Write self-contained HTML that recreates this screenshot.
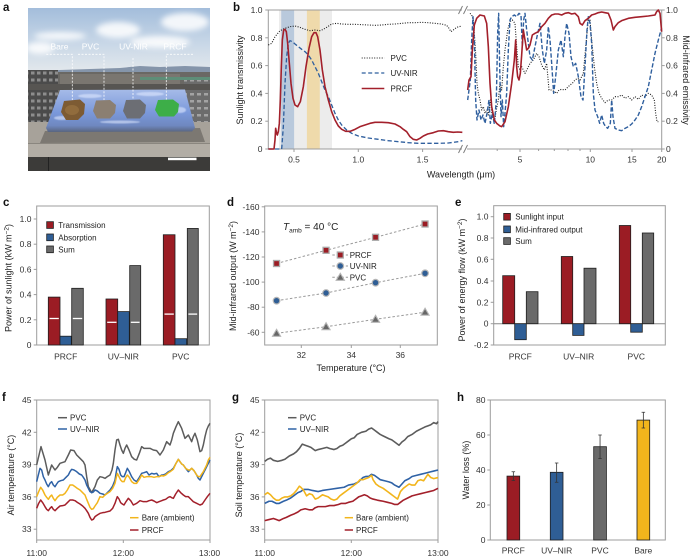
<!DOCTYPE html>
<html><head><meta charset="utf-8"><style>
html,body{margin:0;padding:0;background:#fff;}
svg{display:block;font-family:"Liberation Sans",Arial,sans-serif;}
.tk{font-size:8.5px;fill:#333;}
.al{font-size:9px;fill:#222;}
.lg{font-size:8px;fill:#222;}
.pl{font-size:11.5px;font-weight:bold;fill:#111;}
.fr{fill:none;stroke:#9c9c9c;stroke-width:1;}
.tm{stroke:#9c9c9c;stroke-width:1;}
.bar{stroke:#1e1e1e;stroke-width:0.8;}
</style></head><body>
<svg width="692" height="557" viewBox="0 0 692 557" xmlns="http://www.w3.org/2000/svg">
<defs>
<linearGradient id="sky" x1="0" y1="0" x2="0" y2="1">
<stop offset="0" stop-color="#a3bddb"/><stop offset="0.55" stop-color="#c8d7e7"/><stop offset="1" stop-color="#e3e8ec"/>
</linearGradient>
<linearGradient id="foil" x1="0" y1="0" x2="0" y2="1">
<stop offset="0" stop-color="#a6bbe8"/><stop offset="0.55" stop-color="#7a98da"/><stop offset="0.85" stop-color="#6f88c0"/><stop offset="1" stop-color="#59657f"/>
</linearGradient>
<filter id="bl" x="-50%" y="-50%" width="200%" height="200%"><feGaussianBlur stdDeviation="3"/></filter>
<filter id="bl1"><feGaussianBlur stdDeviation="0.6"/></filter>
<pattern id="win" width="6" height="7" patternUnits="userSpaceOnUse"><rect width="6" height="7" fill="#4b4b4b"/><rect x="1" y="1.5" width="3.5" height="3" fill="#8d8d8d"/></pattern>
<pattern id="win2" width="7" height="7" patternUnits="userSpaceOnUse"><rect width="7" height="7" fill="#6c6c6c"/><rect x="1" y="2" width="4" height="2.5" fill="#a3a3a3"/></pattern>
<clipPath id="ca"><rect x="28" y="8" width="182" height="163"/></clipPath>
</defs>
<rect width="692" height="557" fill="#fff"/>

<!-- ============ PANEL A ============ -->
<text class="pl" x="3" y="11">a</text>
<g clip-path="url(#ca)">
<rect x="28" y="8" width="182" height="64" fill="url(#sky)"/>
<g filter="url(#bl)" fill="#fff" opacity="0.85">
<ellipse cx="118" cy="30" rx="22" ry="8"/><ellipse cx="185" cy="22" rx="24" ry="9"/><ellipse cx="60" cy="36" rx="26" ry="4"/><ellipse cx="160" cy="42" rx="30" ry="6"/><ellipse cx="40" cy="48" rx="14" ry="6"/>
</g>
<path d="M28,72 L60,70 L90,69 L120,68 L140,66 L160,67 L185,66 L210,67 L210,80 L28,80 Z" fill="#8595aa"/>
<rect x="28" y="72" width="182" height="52" fill="#6a6864"/>
<rect x="60" y="74" width="120" height="14" fill="#7a7670"/>
<rect x="140" y="77" width="70" height="3" fill="#5e8e78"/>
<rect x="28" y="70" width="30" height="54" fill="url(#win)"/>
<rect x="184" y="80" width="26" height="44" fill="url(#win2)"/>
<rect x="28" y="84" width="182" height="6" fill="#575552"/>
<rect x="28" y="122" width="182" height="24" fill="#a7a29a"/>
<polygon points="45,131 200,128 205,142 40,143" fill="#6e6a64" opacity="0.75"/>
<rect x="28" y="144" width="182" height="13" fill="#b2ada5"/>
<rect x="28" y="143" width="182" height="1" fill="#8a867f"/>
<rect x="28" y="157" width="182" height="14" fill="#3c3b39"/>
<rect x="48" y="157" width="1" height="14" fill="#222"/>
<polygon points="60,90 185,89.5 195,128 192,131.5 48,132 46,128" fill="url(#foil)"/>
<g filter="url(#bl1)" fill="#dfe8ff" opacity="0.6">
<ellipse cx="90" cy="96" rx="12" ry="2"/><ellipse cx="150" cy="94" rx="14" ry="2"/><ellipse cx="120" cy="122" rx="20" ry="1.5"/><ellipse cx="62" cy="118" rx="8" ry="2"/><ellipse cx="180" cy="110" rx="6" ry="3"/>
</g>
<polygon points="64,101 80,99.5 85,104 84,114 78,120 66,120 61,112" fill="#7d5b33"/>
<ellipse cx="72" cy="110" rx="7" ry="5" fill="#9a7442" opacity="0.7"/>
<polygon points="96,100.5 110,100 116,105 115,113 110,118.5 97,118.5 93,111" fill="#8b7f72"/>
<polygon points="126,100 140,99.5 146,105 145,113 140,118.5 127,118.5 123,111" fill="#6c6e74"/>
<polygon points="158,100 173,99.5 179,104 178,112 174,116.5 159,116.5 155,110" fill="#3dae48"/>
<g font-size="8.5" fill="#fff" text-anchor="middle">
<text x="59.5" y="49.5">Bare</text><text x="90.5" y="49.5">PVC</text><text x="133.5" y="49.5">UV-NIR</text><text x="175" y="49.5">PRCF</text>
</g>
<g stroke="#fff" stroke-width="0.8" stroke-dasharray="2 1.5" fill="none" opacity="0.95">
<path d="M46.3,54.3 H72.3 V100"/><path d="M78,54.3 H104 V100"/><path d="M133,58 V100"/><path d="M193,54.3 H166.3 V100"/>
</g>
<rect x="168" y="157.7" width="28.5" height="2.5" fill="#fff"/>
</g>

<!-- ============ PANEL B ============ -->
<text class="pl" x="233" y="11">b</text>
<rect x="279" y="10" width="53" height="139" fill="#ececec"/>
<rect x="281.2" y="10" width="12.9" height="139" fill="#b9c9dc"/>
<rect x="306.9" y="10" width="12.9" height="139" fill="#efdaab"/>
<path class="fr" d="M462,10 H268.3 V149 H462 M467,10 H661.7 V149 H467"/>
<g stroke="#777" stroke-width="0.9">
<line x1="458.5" y1="14" x2="462.5" y2="6"/><line x1="463.5" y1="14" x2="467.5" y2="6"/>
<line x1="458.5" y1="153" x2="462.5" y2="145"/><line x1="463.5" y1="153" x2="467.5" y2="145"/>
</g>
<g class="tm">
<line x1="265.3" y1="10" x2="268.3" y2="10"/><line x1="265.3" y1="37.8" x2="268.3" y2="37.8"/><line x1="265.3" y1="65.6" x2="268.3" y2="65.6"/><line x1="265.3" y1="93.4" x2="268.3" y2="93.4"/><line x1="265.3" y1="121.2" x2="268.3" y2="121.2"/><line x1="265.3" y1="149" x2="268.3" y2="149"/>
<line x1="661.7" y1="10" x2="664.7" y2="10"/><line x1="661.7" y1="37.8" x2="664.7" y2="37.8"/><line x1="661.7" y1="65.6" x2="664.7" y2="65.6"/><line x1="661.7" y1="93.4" x2="664.7" y2="93.4"/><line x1="661.7" y1="121.2" x2="664.7" y2="121.2"/><line x1="661.7" y1="149" x2="664.7" y2="149"/>
<line x1="294" y1="149" x2="294" y2="152"/><line x1="358.3" y1="149" x2="358.3" y2="152"/><line x1="422.6" y1="149" x2="422.6" y2="152"/>
<line x1="520" y1="149" x2="520" y2="152"/><line x1="590.3" y1="149" x2="590.3" y2="152"/><line x1="632" y1="149" x2="632" y2="152"/><line x1="661.7" y1="149" x2="661.7" y2="152"/>
<line x1="497.2" y1="149" x2="497.2" y2="151"/><line x1="538.6" y1="149" x2="538.6" y2="151"/><line x1="554.3" y1="149" x2="554.3" y2="151"/><line x1="568" y1="149" x2="568" y2="151"/><line x1="580" y1="149" x2="580" y2="151"/>
</g>
<g class="tk" text-anchor="end">
<text x="262.5" y="13">1.0</text><text x="262.5" y="40.8">0.8</text><text x="262.5" y="68.6">0.6</text><text x="262.5" y="96.4">0.4</text><text x="262.5" y="124.2">0.2</text><text x="262.5" y="152">0</text>
</g>
<g class="tk">
<text x="666" y="13">1.0</text><text x="666" y="40.8">0.8</text><text x="666" y="68.6">0.6</text><text x="666" y="96.4">0.4</text><text x="666" y="124.2">0.2</text><text x="666" y="152">0</text>
</g>
<g class="tk" text-anchor="middle">
<text x="294" y="162.5">0.5</text><text x="358.3" y="162.5">1.0</text><text x="422.6" y="162.5">1.5</text>
<text x="520" y="162.5">5</text><text x="590.3" y="162.5">10</text><text x="632" y="162.5">15</text><text x="661.7" y="162.5">20</text>
</g>
<text class="al" x="461" y="177.5" text-anchor="middle">Wavelength (μm)</text>
<text class="al" transform="translate(243,80) rotate(-90)" text-anchor="middle">Sunlight transmissivity</text>
<text class="al" transform="translate(683,80) rotate(90)" text-anchor="middle">Mid-infrared emissivity</text>
<g transform="translate(235,0) scale(0.33333)" fill="none">
<polyline stroke="#1a1a1a" stroke-width="3.3" stroke-dasharray="3 4.5" points="100,135 110,130 120,110 135,92 150,85 165,80 180,78 195,82 210,88 225,92 240,90 255,92 265,88 275,82 290,72 305,70 320,72 340,73 360,73 380,74 400,75 420,76 440,75 460,73 480,72 500,70 520,68 540,68 560,67 580,68 600,70 620,72 635,76 642,85 648,95 655,90 665,82 680,78"/>
<polyline stroke="#2f5f9e" stroke-width="4" stroke-dasharray="13 7" points="100,447 140,447 145,380 150,250 155,170 160,130 165,122 172,125 180,132 190,140 200,148 210,155 220,165 230,180 240,200 250,220 260,245 270,270 280,290 290,315 300,340 310,360 320,375 335,390 350,400 370,408 400,414 430,418 460,422 490,425 520,428 550,430 580,430 610,430 640,429 670,425 682,422"/>
<polyline stroke="#a3202b" stroke-width="4.8" stroke-linejoin="round" points="100,447 117,447 120,420 122,385 125,400 127,405 130,395 133,370 136,300 139,200 142,120 146,90 150,88 154,95 158,130 163,190 168,250 174,295 180,315 188,320 196,305 205,260 213,200 222,145 230,110 237,98 243,98 248,110 255,150 262,210 270,260 280,300 290,335 300,360 310,378 320,388 332,394 345,394 360,388 375,380 390,375 405,370 420,367 440,367 460,368 480,372 495,380 505,388 515,395 525,410 535,418 545,420 555,415 565,408 578,402 595,398 610,393 625,392 640,395 655,397 668,396 682,397"/>
</g>
<g transform="translate(455,0) scale(0.33333)" fill="none" stroke-linejoin="round">
<polyline stroke="#1a1a1a" stroke-width="3.3" stroke-dasharray="3 4.5" points="45,40 50,45 55,60 58,100 62,160 66,250 70,280 75,300 80,330 85,320 90,340 96,330 100,345 106,300 112,350 118,365 124,330 130,300 135,250 140,270 145,200 150,150 158,90 165,65 172,60 180,70 185,140 190,200 195,210 200,200 210,220 218,205 225,190 235,180 245,160 252,170 260,195 268,210 275,190 282,270 290,270 298,275 305,280 312,270 320,268 330,270 338,262 345,255 352,250 360,240 368,235 375,240 385,220 395,110 400,55 405,60 410,120 418,200 425,250 432,280 440,295 450,308 460,300 470,300 480,290 490,290 500,285 510,295 520,290 530,300 540,290 550,298 560,285 570,290 580,280 590,285 598,300 602,340 606,365 610,365"/>
<polyline stroke="#2f5f9e" stroke-width="4.2" stroke-dasharray="13 6" points="38,300 42,270 46,240 50,120 54,50 58,120 62,300 66,360 72,330 78,360 84,345 90,370 96,340 102,300 106,370 112,340 118,372 124,300 128,100 131,40 134,200 138,350 142,300 146,380 150,340 155,280 160,150 165,60 170,50 178,45 185,50 192,40 198,45 202,140 206,60 210,40 215,90 220,130 225,170 232,180 240,140 248,100 255,70 262,150 268,190 275,150 280,80 285,120 290,190 296,280 302,230 310,150 318,120 325,170 330,110 335,70 342,100 348,170 355,200 362,190 370,230 378,290 384,300 390,200 396,90 400,50 405,70 410,130 415,280 420,330 428,350 434,370 440,345 446,370 452,380 458,385 466,370 470,300 474,350 480,385 490,390 500,392 510,385 520,380 530,372 540,360 550,345 560,320 570,290 580,260 590,210 600,160 610,120 618,90 620,85"/>
<polyline stroke="#a3202b" stroke-width="4.8" points="38,270 42,240 48,230 52,150 58,75 65,55 75,45 88,48 95,70 100,140 105,250 110,320 118,360 125,370 135,378 140,380 150,365 160,320 170,250 178,180 182,120 185,200 188,230 192,240 196,220 200,165 205,90 210,120 215,150 220,145 225,135 232,105 240,100 250,95 260,80 270,70 280,55 290,45 300,42 310,42 320,45 330,40 340,38 350,42 360,40 370,50 375,70 382,75 390,62 400,55 410,45 420,42 430,38 440,36 450,38 460,40 468,60 475,90 480,80 490,68 500,62 520,55 540,52 560,50 580,48 600,45 605,35 610,30 615,40 620,95"/>
</g>
<line x1="361.7" y1="58" x2="384.3" y2="58" stroke="#1a1a1a" stroke-width="1.1" stroke-dasharray="1 1.5"/>
<line x1="361.7" y1="73" x2="384.3" y2="73" stroke="#2f5f9e" stroke-width="1.3" stroke-dasharray="4 2.5"/>
<line x1="361.7" y1="88.5" x2="384.3" y2="88.5" stroke="#a3202b" stroke-width="1.5"/>
<g class="lg"><text x="390.5" y="61">PVC</text><text x="390.5" y="76">UV-NIR</text><text x="390.5" y="91.5">PRCF</text></g>

<!-- ============ PANEL C ============ -->
<text class="pl" x="3" y="206">c</text>
<rect class="fr" x="36.7" y="206" width="172.6" height="139"/>
<g class="tm"><line x1="33.7" y1="219" x2="36.7" y2="219"/><line x1="33.7" y1="244.2" x2="36.7" y2="244.2"/><line x1="33.7" y1="269.4" x2="36.7" y2="269.4"/><line x1="33.7" y1="294.6" x2="36.7" y2="294.6"/><line x1="33.7" y1="319.8" x2="36.7" y2="319.8"/><line x1="33.7" y1="345" x2="36.7" y2="345"/></g>
<g class="tk" text-anchor="end"><text x="31.5" y="222">1.0</text><text x="31.5" y="247.2">0.8</text><text x="31.5" y="272.4">0.6</text><text x="31.5" y="297.6">0.4</text><text x="31.5" y="322.8">0.2</text><text x="31.5" y="348">0</text></g>
<text class="al" transform="translate(11.5,278) rotate(-90)" text-anchor="middle">Power of sunlight (kW m<tspan dy="-3" font-size="6.5">−2</tspan><tspan dy="3">)</tspan></text>
<g class="bar">
<rect x="48.3" y="297.1" width="11.7" height="47.9" fill="#9b1c24"/><rect x="60" y="336.2" width="11.3" height="8.8" fill="#2f5e95"/><rect x="71.7" y="288.3" width="11.6" height="56.7" fill="#6a6a6a"/>
<rect x="106" y="299" width="11.7" height="46" fill="#9b1c24"/><rect x="117.7" y="311.6" width="11.6" height="33.4" fill="#2f5e95"/><rect x="129.7" y="265.6" width="11" height="79.4" fill="#6a6a6a"/>
<rect x="163.3" y="234.75" width="11.7" height="110.25" fill="#9b1c24"/><rect x="175" y="338.7" width="11.7" height="6.3" fill="#2f5e95"/><rect x="187.3" y="228.45" width="11" height="116.55" fill="#6a6a6a"/>
</g>
<g stroke="#fff" stroke-width="1.3">
<line x1="49.5" y1="318.5" x2="58.8" y2="318.5"/><line x1="72.8" y1="318.5" x2="82.2" y2="318.5"/>
<line x1="107.2" y1="322.3" x2="116.5" y2="322.3"/><line x1="130.8" y1="322.3" x2="139.6" y2="322.3"/>
<line x1="164.5" y1="314.1" x2="173.8" y2="314.1"/><line x1="188.4" y1="314.1" x2="197.2" y2="314.1"/>
</g>
<g class="bar"><rect x="46.7" y="221.7" width="6.7" height="6.7" fill="#9b1c24"/><rect x="46.7" y="234" width="6.7" height="6.7" fill="#2f5e95"/><rect x="46.7" y="246" width="6.7" height="6.7" fill="#6a6a6a"/></g>
<g class="lg"><text x="58.3" y="228">Transmission</text><text x="58.3" y="240.3">Absorption</text><text x="58.3" y="252.3">Sum</text></g>
<g class="tk" text-anchor="middle" font-size="9"><text x="65.7" y="359.5">PRCF</text><text x="123.3" y="359.5">UV–NIR</text><text x="180.7" y="359.5">PVC</text></g>

<!-- ============ PANEL D ============ -->
<text class="pl" x="227" y="206">d</text>
<rect class="fr" x="264.7" y="206" width="172.6" height="139"/>
<g class="tm"><line x1="261.7" y1="206.8" x2="264.7" y2="206.8"/><line x1="261.7" y1="231.9" x2="264.7" y2="231.9"/><line x1="261.7" y1="257" x2="264.7" y2="257"/><line x1="261.7" y1="282.1" x2="264.7" y2="282.1"/><line x1="261.7" y1="307.2" x2="264.7" y2="307.2"/><line x1="261.7" y1="332.3" x2="264.7" y2="332.3"/>
<line x1="301.3" y1="345" x2="301.3" y2="348"/><line x1="351.3" y1="345" x2="351.3" y2="348"/><line x1="400.3" y1="345" x2="400.3" y2="348"/></g>
<g class="tk" text-anchor="end"><text x="259.5" y="209.8">-160</text><text x="259.5" y="234.9">-140</text><text x="259.5" y="260">-120</text><text x="259.5" y="285.1">-100</text><text x="259.5" y="310.2">-80</text><text x="259.5" y="335.3">-60</text></g>
<g class="tk" text-anchor="middle"><text x="301.3" y="358">32</text><text x="351.3" y="358">34</text><text x="400.3" y="358">36</text></g>
<text class="al" x="351" y="371" text-anchor="middle">Temperature (°C)</text>
<text class="al" transform="translate(236,276) rotate(-90)" text-anchor="middle">Mid-infrared output (W m<tspan dy="-3" font-size="6.5">−2</tspan><tspan dy="3">)</tspan></text>
<text x="283" y="230" font-size="10" fill="#222"><tspan font-style="italic">T</tspan><tspan font-size="6.5" dy="2.5">amb</tspan><tspan dy="-2.5"> = 40 °C</tspan></text>
<g stroke="#9a9a9a" stroke-width="1" stroke-dasharray="2.5 2" fill="none">
<polyline points="276.55,263.5 326.05,250.3 375.55,237.3 425.05,224"/>
<polyline points="276.55,300.7 326.05,293 375.55,282.7 425.05,273.3"/>
<polyline points="276.55,333.3 326.05,326.7 375.55,319.3 425.05,312.2"/>
<line x1="332.3" y1="255" x2="348" y2="255"/><line x1="332.3" y1="266" x2="348" y2="266"/><line x1="332.3" y1="277.3" x2="348" y2="277.3"/>
</g>
<g fill="#9b1c24" stroke="#aaa" stroke-width="1.3">
<rect x="273.55" y="260.5" width="6" height="6"/><rect x="323.05" y="247.3" width="6" height="6"/><rect x="372.55" y="234.3" width="6" height="6"/><rect x="422.05" y="221" width="6" height="6"/><rect x="337.3" y="252" width="6" height="6"/>
</g>
<g fill="#2f5e95" stroke="#b5b5b5" stroke-width="1.2">
<circle cx="276.55" cy="300.7" r="3.3"/><circle cx="326.05" cy="293" r="3.3"/><circle cx="375.55" cy="282.7" r="3.3"/><circle cx="425.05" cy="273.3" r="3.3"/><circle cx="340.3" cy="266" r="3.3"/>
</g>
<g fill="#666" stroke="#b5b5b5" stroke-width="1.1">
<polygon points="276.55,329.3 280.6,336.3 272.5,336.3"/><polygon points="326.05,322.7 330.1,329.7 322,329.7"/><polygon points="375.55,315.3 379.6,322.3 371.5,322.3"/><polygon points="425.05,308.2 429.1,315.2 421,315.2"/><polygon points="340.3,273.3 344.4,280.3 336.2,280.3"/>
</g>
<g class="lg"><text x="349.7" y="258">PRCF</text><text x="349.7" y="269">UV-NIR</text><text x="349.7" y="280.3">PVC</text></g>

<!-- ============ PANEL E ============ -->
<text class="pl" x="455" y="206">e</text>
<rect class="fr" x="493.7" y="205.7" width="171.6" height="139.3"/>
<line x1="493.7" y1="323.7" x2="665.3" y2="323.7" stroke="#8a8a8a" stroke-width="1"/>
<g class="tm"><line x1="490.7" y1="216.7" x2="493.7" y2="216.7"/><line x1="490.7" y1="238" x2="493.7" y2="238"/><line x1="490.7" y1="259.3" x2="493.7" y2="259.3"/><line x1="490.7" y1="281" x2="493.7" y2="281"/><line x1="490.7" y1="302.3" x2="493.7" y2="302.3"/><line x1="490.7" y1="323.7" x2="493.7" y2="323.7"/><line x1="490.7" y1="345" x2="493.7" y2="345"/></g>
<g class="tk" text-anchor="end"><text x="488.5" y="219.7">1.0</text><text x="488.5" y="241">0.8</text><text x="488.5" y="262.3">0.6</text><text x="488.5" y="284">0.4</text><text x="488.5" y="305.3">0.2</text><text x="488.5" y="326.7">0</text><text x="488.5" y="348">-0.2</text></g>
<text class="al" transform="translate(465,280) rotate(-90)" text-anchor="middle">Power of energy flow (kW m<tspan dy="-3" font-size="6.5">−2</tspan><tspan dy="3">)</tspan></text>
<g class="bar">
<rect x="502.7" y="275.7" width="12" height="48" fill="#9b1c24"/><rect x="514.7" y="323.7" width="11.6" height="16" fill="#2f5e95"/><rect x="526.3" y="291.7" width="11.7" height="32" fill="#6a6a6a"/>
<rect x="561.3" y="256.5" width="11.4" height="67.2" fill="#9b1c24"/><rect x="572.7" y="323.7" width="11.3" height="11.7" fill="#2f5e95"/><rect x="584" y="268.2" width="12" height="55.5" fill="#6a6a6a"/>
<rect x="619.3" y="225.5" width="11.4" height="98.2" fill="#9b1c24"/><rect x="630.7" y="323.7" width="11.6" height="8.5" fill="#2f5e95"/><rect x="642.3" y="233" width="11.4" height="90.7" fill="#6a6a6a"/>
</g>
<g class="bar"><rect x="503.7" y="213.4" width="6.7" height="6.7" fill="#9b1c24"/><rect x="503.7" y="226" width="6.7" height="6.7" fill="#2f5e95"/><rect x="503.7" y="237.7" width="6.7" height="6.7" fill="#6a6a6a"/></g>
<g class="lg"><text x="515.3" y="219.7">Sunlight input</text><text x="515.3" y="232.3">Mid-infrared output</text><text x="515.3" y="244">Sum</text></g>
<g class="tk" text-anchor="middle" font-size="9"><text x="520.3" y="359.5">PRCF</text><text x="578.7" y="359.5">UV–NIR</text><text x="636.3" y="359.5">PVC</text></g>

<!-- ============ PANEL F ============ -->
<text class="pl" x="2" y="401">f</text>
<rect class="fr" x="36.7" y="400" width="173.3" height="140"/>
<g class="tm"><line x1="33.7" y1="400" x2="36.7" y2="400"/><line x1="33.7" y1="432.3" x2="36.7" y2="432.3"/><line x1="33.7" y1="464.6" x2="36.7" y2="464.6"/><line x1="33.7" y1="496.9" x2="36.7" y2="496.9"/><line x1="33.7" y1="529.2" x2="36.7" y2="529.2"/>
<line x1="36.7" y1="540" x2="36.7" y2="543"/><line x1="123.3" y1="540" x2="123.3" y2="543"/><line x1="210" y1="540" x2="210" y2="543"/></g>
<g class="tk" text-anchor="end"><text x="31.5" y="403">45</text><text x="31.5" y="435.3">42</text><text x="31.5" y="467.6">39</text><text x="31.5" y="499.9">36</text><text x="31.5" y="532.2">33</text></g>
<g class="tk" text-anchor="middle"><text x="36.7" y="556">11:00</text><text x="123.3" y="556">12:00</text><text x="209.5" y="556">13:00</text></g>
<text class="al" transform="translate(14,475) rotate(-90)" text-anchor="middle">Air temperature (°C)</text>
<g transform="translate(0,380) scale(0.33333)" fill="none" stroke-width="4.5" stroke-linejoin="round">
<polyline stroke="#5c5c5c" points="110,255 123,200 135,240 145,285 155,255 165,270 172,262 180,250 195,245 205,225 212,210 222,212 230,225 240,235 250,245 255,255 260,290 265,320 275,338 285,320 292,300 300,290 308,292 315,295 322,290 330,285 336,270 340,250 345,210 350,180 355,178 360,195 365,210 370,220 375,205 380,195 387,210 395,230 403,238 410,240 418,220 425,200 432,205 440,205 450,205 460,210 470,212 480,225 490,210 500,185 505,190 510,195 515,180 520,160 528,140 535,125 540,135 545,145 550,160 555,175 560,170 565,165 570,175 575,185 580,170 585,160 592,180 600,215 605,212 610,195 615,170 620,150 625,138 630,130"/>
<polyline stroke="#2f62a6" points="110,305 115,285 120,265 125,270 130,290 135,300 140,312 145,320 150,310 155,305 160,315 165,320 170,312 175,305 182,302 190,300 198,292 205,285 210,275 215,268 222,270 230,275 238,282 245,285 250,292 255,300 260,315 265,325 270,335 275,338 280,336 285,330 292,333 300,340 308,342 315,345 322,338 330,330 338,318 345,300 349,275 352,260 357,268 362,285 367,290 372,290 377,278 382,265 388,275 395,290 402,300 410,305 418,292 425,280 432,278 440,275 447,285 455,280 462,282 470,280 477,290 485,285 490,285 497,282 505,275 512,272 520,265 528,250 535,238 540,245 545,252 550,255 557,265 565,275 570,270 575,265 582,272 590,285 595,295 600,300 605,290 610,280 615,270 620,260 625,250 630,240"/>
<polyline stroke="#f2b51c" points="110,350 116,335 122,322 128,330 135,345 140,352 145,358 150,350 155,345 160,355 165,362 172,352 180,345 188,345 195,340 202,330 210,315 218,315 225,320 232,325 240,330 248,338 255,345 260,358 265,370 270,382 275,388 280,386 285,378 292,368 300,350 308,352 315,345 322,340 330,335 338,325 345,310 349,292 352,280 357,290 362,300 367,305 372,305 377,293 382,285 388,292 395,305 402,310 410,310 418,298 425,285 432,292 440,290 447,290 455,290 462,292 470,290 477,290 485,287 490,288 497,285 505,278 512,274 520,268 528,250 535,238 540,245 545,252 550,255 557,265 565,270 570,270 575,265 582,272 590,285 595,290 600,290 605,282 610,275 615,265 620,255 625,240 630,232"/>
<polyline stroke="#a3202b" points="110,385 116,370 122,360 128,368 135,380 140,388 145,392 150,385 155,380 160,388 165,392 172,385 180,378 188,377 195,375 202,368 210,360 218,360 225,362 232,367 240,372 248,378 255,385 260,392 265,400 270,412 275,420 280,418 285,410 292,405 300,400 308,398 315,397 322,395 330,393 338,385 345,370 349,358 352,350 357,357 362,368 367,372 372,375 378,365 385,355 392,362 400,375 410,370 420,362 430,365 440,365 447,362 455,360 462,363 470,368 477,365 485,362 490,360 497,358 505,352 510,350 515,353 520,355 527,342 535,330 542,338 550,345 557,350 565,350 572,357 580,365 590,370 600,375 607,372 615,360 622,350 630,340"/>
</g>
<g stroke-width="1.5"><line x1="58" y1="417.7" x2="67" y2="417.7" stroke="#5c5c5c"/><line x1="58" y1="429" x2="67" y2="429" stroke="#2f62a6"/><line x1="130" y1="517.7" x2="138.5" y2="517.7" stroke="#f2b51c"/><line x1="130" y1="530" x2="138.5" y2="530" stroke="#a3202b"/></g>
<g class="lg"><text x="70" y="420.5">PVC</text><text x="70" y="432">UV–NIR</text><text x="141.7" y="520.5">Bare (ambient)</text><text x="141.7" y="533">PRCF</text></g>

<!-- ============ PANEL G ============ -->
<text class="pl" x="232" y="401">g</text>
<rect class="fr" x="264.7" y="400" width="173.3" height="140"/>
<g class="tm"><line x1="261.7" y1="400" x2="264.7" y2="400"/><line x1="261.7" y1="432.3" x2="264.7" y2="432.3"/><line x1="261.7" y1="464.6" x2="264.7" y2="464.6"/><line x1="261.7" y1="496.9" x2="264.7" y2="496.9"/><line x1="261.7" y1="529.2" x2="264.7" y2="529.2"/>
<line x1="264.7" y1="540" x2="264.7" y2="543"/><line x1="351.3" y1="540" x2="351.3" y2="543"/><line x1="438" y1="540" x2="438" y2="543"/></g>
<g class="tk" text-anchor="end"><text x="259.5" y="403">45</text><text x="259.5" y="435.3">42</text><text x="259.5" y="467.6">39</text><text x="259.5" y="499.9">36</text><text x="259.5" y="532.2">33</text></g>
<g class="tk" text-anchor="middle"><text x="264.7" y="556">11:00</text><text x="351.3" y="556">12:00</text><text x="438" y="556">13:00</text></g>
<text class="al" transform="translate(242,475) rotate(-90)" text-anchor="middle">Soil temperature (°C)</text>
<g transform="translate(264.7,884.65) scale(1.4444,-10.77)" fill="none" stroke-linejoin="round">
<polyline vector-effect="non-scaling-stroke" stroke="#5c5c5c" stroke-width="1.6" points="0,39.3 2,39.5 4,39.6 6,39.4 9,39.3 12,39.4 14,39.5 17,39.8 20,40 22,40.2 24,40.5 26,40.9 28,40.8 30,40.7 32,40.6 35,40.3 37,40.4 40,40.5 43,40.6 45,40.5 48,40.4 50,40.5 52,40.7 54,40.8 56,41 58,41.2 60,41.4 62,41.5 64,41.8 67,42 70,42.1 72,42.3 74,42.4 76,42.2 78,42 80,41.8 83,41.6 86,41.4 88,41.3 90,41.1 93,40.8 95,41.1 97,41.3 99,41.6 102,41.8 105,42.1 108,42.3 111,42.5 113,42.6 115,42.7 117,42.9 119,42.8 120,43"/>
<polyline vector-effect="non-scaling-stroke" stroke="#2f62a6" stroke-width="1.6" points="0,35.4 3,35.6 5,35.6 8,35.4 10,35.4 13,35.6 15,35.7 18,35.9 20,36.1 23,36.4 25,36.5 27,36.7 30,36.7 33,36.6 37,36.5 40,36.6 45,36.7 50,36.8 55,36.9 58,37.1 62,37.2 65,37.4 68,37.8 70,37.9 72,37.9 74,38.1 76,38 78,37.8 80,37.6 83,37.5 86,37.4 88,37.3 90,37.1 93,36.9 95,37.2 97,37.5 100,37.7 102,37.9 105,38 108,38.1 111,38.2 114,38.3 117,38.4 120,38.5"/>
<polyline vector-effect="non-scaling-stroke" stroke="#f2b51c" stroke-width="1.6" points="0,36.2 2,36.4 4,36.2 6,35.9 8,35.7 10,35.7 12,35.9 14,36 16,36 18,36.1 20,36.3 22,36.6 24,37 25,36.9 27,36.6 29,36.1 31,36.3 33,36.2 35,35.8 37,35.9 40,36.2 42,36.1 44,36 46,35.8 48,35.7 50,35.8 52,36.1 54,36.3 57,36.6 60,36.9 62,37.1 64,37.3 66,37.6 68,37.6 70,37.7 72,37.8 74,38 75,37.6 77,37.2 79,37 82,36.8 85,36.5 87,36.3 89,36.1 92,35.8 94,36.5 96,36.8 98,37 100,37.2 102,37.1 104,37.1 106,37.5 108,37.6 110,37.5 112,37.9 113,38.1 115,37.8 117,37.7 120,37.8"/>
<polyline vector-effect="non-scaling-stroke" stroke="#a3202b" stroke-width="1.6" points="0,33.8 3,33.9 6,34 8,33.9 10,33.8 13,34 15,34.1 18,34.3 20,34.4 23,34.6 25,34.8 28,34.9 31,34.8 33,34.8 35,35 37,35.1 40,35.1 42,35.1 45,35.2 48,35.2 51,35.3 53,35.4 56,35.4 58,35.5 61,35.6 63,35.8 65,36 67,36.1 69,36.2 71,36.1 73,35.9 75,35.8 78,35.7 82,35.6 85,35.5 88,35.4 90,35.3 92,35.3 94,35.5 96,35.7 99,35.9 102,36.1 105,36.2 108,36.3 111,36.4 114,36.5 117,36.6 120,36.8"/>
</g>
<g stroke-width="1.5"><line x1="288" y1="417.7" x2="296.5" y2="417.7" stroke="#5c5c5c"/><line x1="288" y1="429" x2="296.5" y2="429" stroke="#2f62a6"/><line x1="344.7" y1="517.7" x2="353" y2="517.7" stroke="#f2b51c"/><line x1="344.7" y1="530" x2="353" y2="530" stroke="#a3202b"/></g>
<g class="lg"><text x="299.7" y="420.5">PVC</text><text x="299.7" y="432">UV–NIR</text><text x="356" y="520.5">Bare (ambient)</text><text x="356" y="533">PRCF</text></g>

<!-- ============ PANEL H ============ -->
<text class="pl" x="457" y="401">h</text>
<rect class="fr" x="490.3" y="400" width="175" height="140"/>
<g class="tm"><line x1="487.3" y1="400" x2="490.3" y2="400"/><line x1="487.3" y1="435" x2="490.3" y2="435"/><line x1="487.3" y1="470" x2="490.3" y2="470"/><line x1="487.3" y1="505" x2="490.3" y2="505"/><line x1="487.3" y1="540" x2="490.3" y2="540"/></g>
<g class="tk" text-anchor="end"><text x="485.5" y="403">80</text><text x="485.5" y="438">60</text><text x="485.5" y="473">40</text><text x="485.5" y="508">20</text><text x="485.5" y="543">0</text></g>
<text class="al" transform="translate(469,470) rotate(-90)" text-anchor="middle">Water loss (%)</text>
<g class="bar">
<rect x="507" y="476.1" width="12.7" height="63.9" fill="#9b1c24"/>
<rect x="550.3" y="472.3" width="12.7" height="67.7" fill="#2f5e95"/>
<rect x="593.7" y="446.7" width="12.7" height="93.3" fill="#6a6a6a"/>
<rect x="637" y="420.1" width="12.7" height="119.9" fill="#f2b51c"/>
</g>
<g stroke="#333" stroke-width="0.8">
<path d="M513.35,471.75 V480.5 M511.6,471.75 H515.1 M511.6,480.5 H515.1"/>
<path d="M556.65,463 V482.25 M554.9,463 H558.4 M554.9,482.25 H558.4"/>
<path d="M600.05,435 V458.6 M598.3,435 H601.8 M598.3,458.6 H601.8"/>
<path d="M643.35,412.25 V428 M641.6,412.25 H645.1 M641.6,428 H645.1"/>
</g>
<g class="tk" text-anchor="middle" font-size="9"><text x="513.3" y="553.5">PRCF</text><text x="556.7" y="553.5">UV–NIR</text><text x="600" y="553.5">PVC</text><text x="643.3" y="553.5">Bare</text></g>
</svg>
</body></html>
